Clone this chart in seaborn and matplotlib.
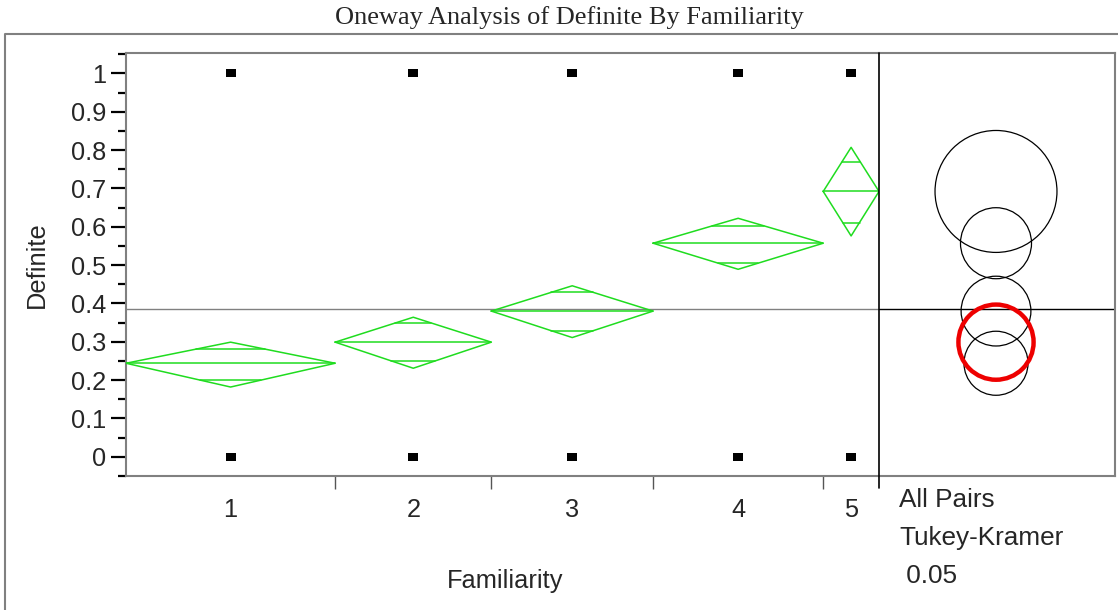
import numpy as np
import pandas as pd
import matplotlib
matplotlib.use("Agg")
import matplotlib.pyplot as plt
import seaborn as sns
from matplotlib.patches import Circle
from matplotlib.lines import Line2D

# ---------------- data ----------------
groups = ["1", "2", "3", "4", "5"]
group_n = [75, 56, 58, 61, 20]
means = [0.244, 0.299, 0.380, 0.557, 0.692]
ci_upper = [0.299, 0.364, 0.446, 0.622, 0.807]
ci_lower = [0.182, 0.231, 0.311, 0.489, 0.576]
overlap_upper = [0.281, 0.349, 0.429, 0.602, 0.770]
overlap_lower = [0.200, 0.250, 0.329, 0.505, 0.611]
grand_mean = 0.3845
circle_radius = [0.0835, 0.098, 0.091, 0.0926, 0.159]
highlight_group = "2"
point_values = [0, 1]
y_ticks = [0, 0.1, 0.2, 0.3, 0.4, 0.5, 0.6, 0.7, 0.8, 0.9, 1]
y_tick_labels = ["0", "0.1", "0.2", "0.3", "0.4", "0.5", "0.6", "0.7", "0.8", "0.9", "1"]
y_minor_ticks = [-0.05, 0.05, 0.15, 0.25, 0.35, 0.45, 0.55, 0.65, 0.75, 0.85, 0.95, 1.05]
side_text = ["All Pairs", "Tukey-Kramer", " 0.05"]
title = "Oneway Analysis of Definite By Familiarity"
x_label = "Familiarity"
y_label = "Definite"

# ---------------- style ----------------
sns.set_style("white")
plt.rcParams["font.family"] = ["Liberation Sans", "DejaVu Sans"]
GREEN = "#1fdc1f"
GRAY = "#808080"
FS = 18.3

W, H = 1118, 610
fig = plt.figure(figsize=(W / 100, H / 100), dpi=100)


def rect(x0, y0, x1, y1):
    return [x0 / W, 1 - y1 / H, (x1 - x0) / W, (y1 - y0) / H]


ax = fig.add_axes(rect(126, 53, 879, 476))
ax2 = fig.add_axes(rect(879, 53, 1115, 476))

YLIM = (-0.05, 1.053)
edges = np.concatenate([[0], np.cumsum(group_n)])
centers = (edges[:-1] + edges[1:]) / 2

ax.set_xlim(0, edges[-1])
ax.set_ylim(*YLIM)

# grand mean line
ax.axhline(grand_mean, color=GRAY, lw=1, zorder=1)

# means diamonds
for i in range(len(groups)):
    L, R, C = edges[i], edges[i + 1], centers[i]
    m, u, l = means[i], ci_upper[i], ci_lower[i]
    ax.plot([L, C, R, C, L], [m, u, m, l, m], color=GREEN, lw=1.1, zorder=3)
    ax.plot([L, R], [m, m], color=GREEN, lw=1.1, zorder=3)
    half = (R - L) / 2
    for ov, ext in ((overlap_upper[i], u), (overlap_lower[i], l)):
        frac = 1 - (ov - m) / (ext - m)
        ax.plot([C - half * frac, C + half * frac], [ov, ov], color=GREEN, lw=1.1, zorder=3)

# points
df = pd.DataFrame({
    "x": np.repeat(centers, len(point_values)),
    "y": point_values * len(groups),
})
rect_marker = [(-1, -0.7), (1, -0.7), (1, 0.7), (-1, 0.7), (-1, -0.7)]
sns.scatterplot(data=df, x="x", y="y", marker=rect_marker, s=60, color="black",
                linewidth=0, ax=ax, legend=False, zorder=5)

# y axis
ax.set_yticks(y_ticks)
ax.set_yticklabels(y_tick_labels)
ax.set_yticks(y_minor_ticks, minor=True)
ax.tick_params(axis="y", which="major", left=True, length=11, width=1.6, color="black",
               labelsize=FS, pad=3)
ax.tick_params(axis="y", which="minor", left=True, length=6, width=1.6, color="black")

# x axis: separators as major ticks, labels at centers
ax.set_xticks(edges[1:-1])
ax.set_xticklabels([""] * (len(edges) - 2))
ax.set_xticks(centers, minor=True)
ax.set_xticklabels(groups, minor=True)
ax.tick_params(axis="x", which="major", bottom=True, length=9, width=1, color="#555555")
ax.tick_params(axis="x", which="minor", bottom=True, length=0, labelsize=FS, pad=16)
ax.set_xlabel("")
ax.set_ylabel("")

for s in ["top", "left", "bottom"]:
    ax.spines[s].set_color(GRAY)
    ax.spines[s].set_linewidth(1.5)
ax.spines["right"].set_visible(False)

# ---------------- comparison circles ----------------
ax2.set_ylim(*YLIM)
xw = (YLIM[1] - YLIM[0]) * (1115 - 879) / (476 - 53)
ax2.set_xlim(0, xw)
cx = xw * (117 / 236)
ax2.axhline(grand_mean, color="black", lw=1, zorder=1)
for g, m, r in zip(groups, means, circle_radius):
    if g == highlight_group:
        ax2.add_patch(Circle((cx, m), r, fill=False, ec="#ee0000", lw=3.2, zorder=4))
    else:
        ax2.add_patch(Circle((cx, m), r, fill=False, ec="black", lw=0.9, zorder=3))
ax2.set_xticks([])
ax2.set_yticks([])
ax2.set_xlabel("")
ax2.set_ylabel("")
for s in ["top", "right", "bottom"]:
    ax2.spines[s].set_color(GRAY)
    ax2.spines[s].set_linewidth(1.5)
ax2.spines["left"].set_visible(False)

# divider between panels (extends below axis)
fig.add_artist(Line2D([879 / W, 879 / W], [1 - 53 / H, 1 - 488 / H], color="black",
                      lw=1.2, transform=fig.transFigure))
# outer frame
fig.add_artist(Line2D([5 / W, 5 / W, 1.0], [0, 1 - 34 / H, 1 - 34 / H], color=GRAY,
                      lw=1.5, transform=fig.transFigure))

# ---------------- texts ----------------
fig.text(569 / W, 1 - 18 / H, title, family=["Liberation Serif", "DejaVu Serif"],
         fontsize=19, ha="center", va="center")
fig.text(37 / W, 1 - 265 / H, y_label, rotation=90, fontsize=FS, ha="center", va="center")
fig.text(505 / W, 1 - 581 / H, x_label, fontsize=FS, ha="center", va="center")
for txt, yy in zip(side_text, [500, 538, 576]):
    fig.text(899 / W, 1 - yy / H, txt, fontsize=18.8, ha="left", va="center")

fig.savefig("out.png", dpi=100)
